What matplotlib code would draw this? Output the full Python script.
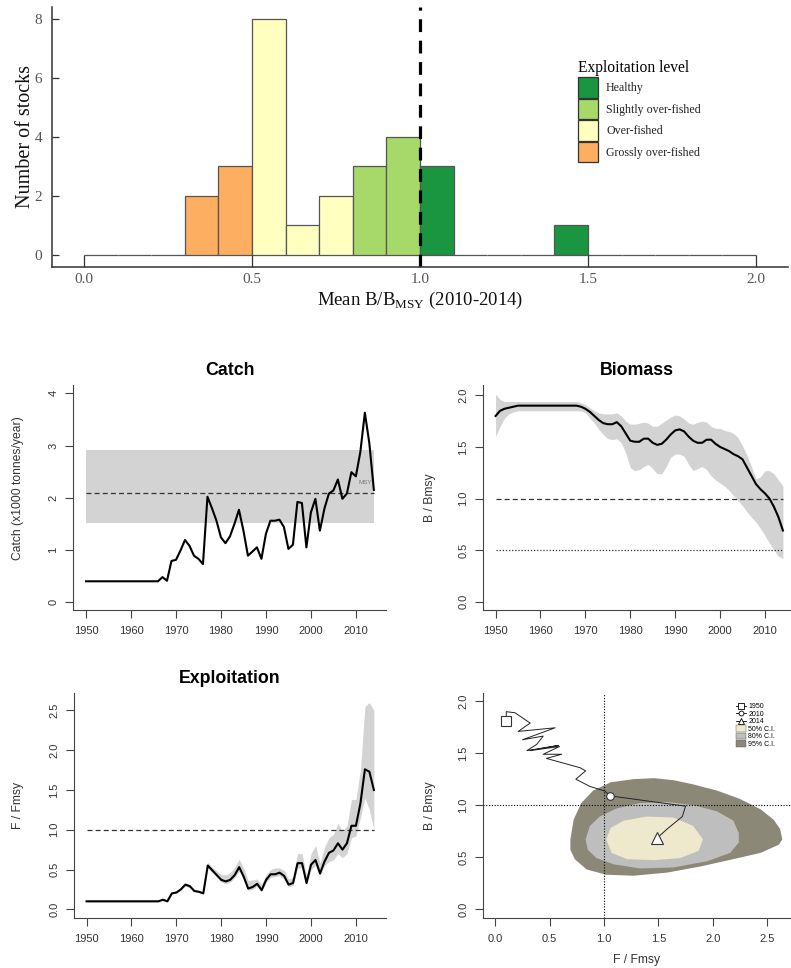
import numpy as np
import matplotlib
matplotlib.use("Agg")
import matplotlib.pyplot as plt
from matplotlib.patches import Patch
from matplotlib.lines import Line2D

plt.rcParams['font.family'] = ['Liberation Sans', 'DejaVu Sans']
plt.rcParams['mathtext.fontset'] = 'custom'
plt.rcParams['mathtext.rm'] = 'Liberation Serif'

# ---- histogram of stock status ----
bin_left = np.round(np.arange(0.0, 2.0, 0.1), 2)
counts = [0, 0, 0, 2, 3, 8, 1, 2, 3, 4, 3, 0, 0, 0, 1, 0, 0, 0, 0, 0]
level_names = ['Healthy', 'Slightly over-fished', 'Over-fished', 'Grossly over-fished']
level_colors = ['#1a9641', '#a6d96a', '#ffffbf', '#fdae61']
level_lower = [1.0, 0.8, 0.5, 0.0]  # lower B/Bmsy bound of each level

# ---- time series 1950-2014 ----
years = np.arange(1950, 2015)
catch = [0.40, 0.40, 0.40, 0.40, 0.40, 0.40, 0.40, 0.40, 0.40, 0.40,
         0.40, 0.40, 0.40, 0.40, 0.40, 0.40, 0.40, 0.48, 0.41, 0.79,
         0.81, 0.99, 1.19, 1.08, 0.89, 0.83, 0.73, 2.02, 1.80, 1.56,
         1.24, 1.13, 1.26, 1.50, 1.77, 1.37, 0.89, 0.97, 1.05, 0.83,
         1.31, 1.56, 1.56, 1.58, 1.44, 1.02, 1.10, 1.92, 1.90, 1.05,
         1.72, 1.98, 1.37, 1.79, 2.08, 2.14, 2.35, 1.98, 2.08, 2.49,
         2.41, 2.88, 3.63, 3.04, 2.15]
msy, msy_lo, msy_hi = 2.09, 1.52, 2.91

biomass = [1.80, 1.85, 1.87, 1.88, 1.89, 1.90, 1.90, 1.90, 1.90, 1.90,
           1.90, 1.90, 1.90, 1.90, 1.90, 1.90, 1.90, 1.90, 1.90, 1.89,
           1.87, 1.84, 1.80, 1.76, 1.73, 1.72, 1.72, 1.74, 1.70, 1.63,
           1.56, 1.55, 1.55, 1.58, 1.58, 1.54, 1.52, 1.53, 1.57, 1.62,
           1.66, 1.67, 1.65, 1.60, 1.56, 1.54, 1.54, 1.57, 1.57, 1.53,
           1.50, 1.48, 1.46, 1.43, 1.41, 1.38, 1.30, 1.22, 1.14, 1.09,
           1.05, 1.00, 0.92, 0.82, 0.69]
biomass_hi = [2.01, 1.96, 1.94, 1.94, 1.94, 1.94, 1.94, 1.94, 1.94, 1.94,
              1.94, 1.94, 1.94, 1.94, 1.94, 1.94, 1.94, 1.94, 1.94, 1.93,
              1.91, 1.88, 1.85, 1.83, 1.82, 1.82, 1.82, 1.83, 1.80, 1.75,
              1.72, 1.72, 1.73, 1.74, 1.73, 1.70, 1.70, 1.73, 1.76, 1.79,
              1.81, 1.80, 1.77, 1.73, 1.72, 1.74, 1.75, 1.74, 1.70, 1.68,
              1.68, 1.66, 1.65, 1.63, 1.59, 1.51, 1.42, 1.31, 1.19, 1.21,
              1.27, 1.27, 1.24, 1.18, 1.12]
biomass_lo = [1.60, 1.70, 1.78, 1.82, 1.84, 1.85, 1.85, 1.85, 1.85, 1.85,
              1.85, 1.85, 1.85, 1.85, 1.85, 1.85, 1.85, 1.85, 1.85, 1.85,
              1.83, 1.78, 1.73, 1.67, 1.62, 1.58, 1.57, 1.58, 1.54, 1.44,
              1.30, 1.27, 1.28, 1.31, 1.33, 1.29, 1.24, 1.24, 1.31, 1.40,
              1.43, 1.43, 1.41, 1.33, 1.27, 1.29, 1.31, 1.28, 1.22, 1.18,
              1.15, 1.12, 1.08, 1.03, 0.98, 0.93, 0.87, 0.82, 0.77, 0.71,
              0.64, 0.57, 0.50, 0.44, 0.42]

fmort = [0.10, 0.10, 0.10, 0.10, 0.10, 0.10, 0.10, 0.10, 0.10, 0.10,
         0.10, 0.10, 0.10, 0.10, 0.10, 0.10, 0.10, 0.12, 0.10, 0.20,
         0.21, 0.25, 0.31, 0.29, 0.23, 0.22, 0.20, 0.55, 0.49, 0.43,
         0.37, 0.35, 0.37, 0.43, 0.53, 0.41, 0.26, 0.28, 0.32, 0.24,
         0.37, 0.44, 0.44, 0.46, 0.42, 0.31, 0.33, 0.58, 0.58, 0.33,
         0.56, 0.62, 0.45, 0.60, 0.71, 0.74, 0.83, 0.75, 0.83, 1.05,
         1.05, 1.33, 1.76, 1.73, 1.50]
fmort_hi = [0.11, 0.11, 0.11, 0.11, 0.11, 0.11, 0.11, 0.11, 0.11, 0.11,
            0.11, 0.11, 0.11, 0.11, 0.11, 0.11, 0.11, 0.13, 0.11, 0.21,
            0.22, 0.27, 0.33, 0.31, 0.25, 0.24, 0.22, 0.59, 0.53, 0.48,
            0.44, 0.43, 0.46, 0.53, 0.63, 0.52, 0.36, 0.37, 0.38, 0.31,
            0.44, 0.50, 0.52, 0.52, 0.49, 0.38, 0.40, 0.70, 0.70, 0.42,
            0.70, 0.80, 0.58, 0.78, 0.90, 0.94, 1.08, 0.98, 1.05, 1.38,
            1.38, 1.75, 2.55, 2.60, 2.50]
fmort_lo = [0.09, 0.09, 0.09, 0.09, 0.09, 0.09, 0.09, 0.09, 0.09, 0.09,
            0.09, 0.09, 0.09, 0.09, 0.09, 0.09, 0.09, 0.11, 0.09, 0.19,
            0.20, 0.24, 0.29, 0.27, 0.22, 0.21, 0.19, 0.52, 0.46, 0.40,
            0.34, 0.32, 0.34, 0.40, 0.48, 0.38, 0.24, 0.25, 0.29, 0.22,
            0.34, 0.40, 0.41, 0.42, 0.38, 0.28, 0.30, 0.52, 0.52, 0.30,
            0.50, 0.55, 0.42, 0.55, 0.60, 0.62, 0.70, 0.65, 0.70, 0.90,
            0.92, 1.15, 1.40, 1.25, 1.00]

# ---- kobe plot: trajectory and confidence regions of the last year ----
kobe_f = [0.10, 0.10, 0.18, 0.32, 0.21, 0.55, 0.25, 0.44, 0.38, 0.29, 0.58, 0.32, 0.59,
          0.44, 0.61, 0.47, 0.78, 0.83, 0.74, 0.87, 1.01, 1.05, 1.75, 1.72, 1.58, 1.49]
kobe_b = [1.81, 1.90, 1.89, 1.79, 1.71, 1.745, 1.63, 1.665, 1.585, 1.525, 1.575, 1.525, 1.565,
          1.49, 1.49, 1.45, 1.36, 1.33, 1.25, 1.18, 1.135, 1.09, 0.99, 0.89, 0.77, 0.685]
kobe_2010 = (1.05, 1.09)

ci95_f = [0.69, 0.72, 0.79, 0.90, 1.06, 1.27, 1.46, 1.64, 1.82, 2.04, 2.25, 2.44, 2.56,
          2.62, 2.64, 2.61, 2.44, 2.19, 1.89, 1.58, 1.27, 1.02, 0.84, 0.73, 0.69]
ci95_b = [0.67, 0.86, 1.02, 1.14, 1.22, 1.25, 1.26, 1.24, 1.20, 1.14, 1.06, 0.96, 0.86,
          0.77, 0.67, 0.62, 0.54, 0.48, 0.41, 0.35, 0.32, 0.33, 0.38, 0.48, 0.57]
ci80_f = [0.83, 0.87, 0.96, 1.12, 1.33, 1.58, 1.82, 2.04, 2.19, 2.24, 2.24, 2.16, 1.95,
          1.64, 1.33, 1.09, 0.93, 0.85]
ci80_b = [0.67, 0.80, 0.89, 0.97, 1.02, 1.03, 1.00, 0.94, 0.85, 0.73, 0.64, 0.54, 0.46,
          0.40, 0.39, 0.43, 0.49, 0.57]
ci50_f = [1.02, 1.06, 1.18, 1.39, 1.64, 1.82, 1.91, 1.87, 1.70, 1.46, 1.21, 1.07]
ci50_b = [0.67, 0.78, 0.85, 0.89, 0.88, 0.80, 0.67, 0.56, 0.49, 0.47, 0.48, 0.54]
ci_colors = ['#8b8878', '#bebebe', '#eee8cd']

W, H = 791, 968
fig = plt.figure(figsize=(W / 100, H / 100), dpi=100)


def axes_px(left, top, right, bottom):
    return fig.add_axes([left / W, 1 - bottom / H, (right - left) / W, (bottom - top) / H])


# ================= histogram =================
serif = 'Liberation Serif'
ax = axes_px(52, 7, 788, 267)
bar_colors = []
for x in bin_left:
    for name, col, lo in zip(level_names, level_colors, level_lower):
        if x + 1e-9 >= lo:
            bar_colors.append(col)
            break
ax.bar(bin_left, counts, width=0.1, align='edge', color=bar_colors,
       edgecolor='#555555', linewidth=0.9)
ax.axvline(1.0, color='black', lw=2.3, linestyle=(0, (4, 2.7)))
ax.set_xlim(-0.095, 2.095)
ax.set_ylim(-0.41, 8.4)
ax.set_xticks([0.0, 0.5, 1.0, 1.5, 2.0])
ax.set_xticklabels(['0.0', '0.5', '1.0', '1.5', '2.0'], family=serif)
ax.set_yticks([0, 2, 4, 6, 8])
ax.set_yticklabels(['0', '2', '4', '6', '8'], family=serif)
for s in ('top', 'right'):
    ax.spines[s].set_visible(False)
for s in ('left', 'bottom'):
    ax.spines[s].set_color('#333333')
    ax.spines[s].set_linewidth(1.1)
ax.tick_params(axis='x', direction='in', length=8.5, width=0.9, color='#333333',
               labelsize=11, labelcolor='#555555', pad=4)
ax.tick_params(axis='y', direction='in', length=5, width=0.9, color='#333333',
               labelsize=11, labelcolor='#555555', pad=7)
ax.set_ylabel('Number of stocks', family=serif, fontsize=14.5, color='#111111')
ax.yaxis.label.set_va('center')
ax.yaxis.set_label_coords((26 - 52) / 736, 0.5)
ax.set_xlabel(r'Mean B/B$_{\mathrm{MSY}}$ (2010-2014)', family=serif, fontsize=13.5,
              color='#111111')
ax.xaxis.label.set_va('center')
ax.xaxis.set_label_coords(0.5, -(300 - 267) / 260)

handles = [Patch(facecolor=c, edgecolor='#333333', linewidth=0.9, label=n)
           for n, c in zip(level_names, level_colors)]
leg = ax.legend(handles=handles, title='Exploitation level', loc='upper left',
                bbox_to_anchor=(578 / W, 1 - 60 / H), bbox_transform=fig.transFigure,
                frameon=False, borderpad=0, borderaxespad=0, handlelength=1.7,
                handleheight=2.25, labelspacing=0.1, handletextpad=0.65,
                prop={'family': serif, 'size': 8.6},
                title_fontproperties={'family': serif, 'size': 11.2},
                alignment='left')
for t in leg.get_texts():
    t.set_color('#222222')


# ================= lower R-style panels =================
def r_style(ax, xticks, yticks, xfmt, yfmt):
    for s in ('top', 'right'):
        ax.spines[s].set_visible(False)
    for s in ('left', 'bottom'):
        ax.spines[s].set_color('#444444')
        ax.spines[s].set_linewidth(0.8)
    ax.set_xticks(xticks)
    ax.set_xticklabels([xfmt.format(v) for v in xticks])
    ax.set_yticks(yticks)
    ax.set_yticklabels([yfmt.format(v) for v in yticks], rotation=90, va='center')
    ax.tick_params(direction='out', length=5.5, width=0.8, color='#444444',
                   labelsize=8, labelcolor='#333333')
    ax.tick_params(axis='x', pad=6)
    ax.tick_params(axis='y', pad=5)


def ylab(ax, text, x_px, left_px, width_px, y_frac=0.5):
    ax.set_ylabel(text, fontsize=8.7, color='#333333')
    ax.yaxis.label.set_va('center')
    ax.yaxis.set_label_coords((x_px - left_px) / width_px, y_frac)


year_ticks = [1950, 1960, 1970, 1980, 1990, 2000, 2010]

# Catch
ax = axes_px(73, 385, 386, 610)
ax.fill_between([years[0], years[-1]], msy_lo, msy_hi, color='#d3d3d3', lw=0)
ax.plot([years[0], years[-1]], [msy, msy], color='#333333', lw=0.9, linestyle=(0, (4, 2.5)))
ax.plot(years, catch, color='black', lw=1.5)
ax.text(2012, msy + 0.2, 'MSY', fontsize=4.5, color='#777777', ha='center', va='center')
ax.set_xlim(1947.1, 2016.7)
ax.set_ylim(-0.15, 4.16)
r_style(ax, year_ticks, [0, 1, 2, 3, 4], '{:d}', '{:d}')
ax.set_title('Catch', fontsize=12.8, fontweight='bold', pad=7)
ylab(ax, 'Catch (x1000 tonnes/year)', 18, 73, 313, y_frac=0.54)

# Biomass
ax = axes_px(483, 385, 791, 610)
ax.fill_between(years, biomass_lo, biomass_hi, color='#d3d3d3', lw=0)
ax.plot([years[0], years[-1]], [1.0, 1.0], color='#333333', lw=0.9, linestyle=(0, (4, 2.5)))
ax.plot([years[0], years[-1]], [0.5, 0.5], color='#333333', lw=0.9, linestyle=(0, (1, 1.5)))
ax.plot(years, biomass, color='black', lw=1.5)
ax.set_xlim(1947.2, 2015.8)
ax.set_ylim(-0.08, 2.10)
r_style(ax, year_ticks, [0.0, 0.5, 1.0, 1.5, 2.0], '{:d}', '{:.1f}')
ax.set_title('Biomass', fontsize=12.8, fontweight='bold', pad=7)
ylab(ax, 'B / Bmsy', 430, 483, 308)

# Exploitation
ax = axes_px(74, 693, 386, 918)
ax.fill_between(years, fmort_lo, fmort_hi, color='#d3d3d3', lw=0)
ax.plot([years[0], years[-1]], [1.0, 1.0], color='#333333', lw=0.9, linestyle=(0, (4, 2.5)))
ax.plot(years, fmort, color='black', lw=1.5)
ax.set_xlim(1947.2, 2016.7)
ax.set_ylim(-0.11, 2.72)
r_style(ax, year_ticks, [0.0, 0.5, 1.0, 1.5, 2.0, 2.5], '{:d}', '{:.1f}')
ax.set_title('Exploitation', fontsize=12.8, fontweight='bold', pad=7)
ylab(ax, 'F / Fmsy', 18, 74, 312)

# Kobe plot
ax = axes_px(483, 693, 791, 918)
for fx, by, col in zip([ci95_f, ci80_f, ci50_f], [ci95_b, ci80_b, ci50_b], ci_colors):
    ax.fill(fx, by, color=col, lw=0)
ax.axvline(1.0, color='black', lw=0.8, linestyle=(0, (1, 1.5)))
ax.axhline(1.0, color='black', lw=0.8, linestyle=(0, (1, 1.5)))
ax.plot(kobe_f, kobe_b, color='#222222', lw=0.7)
ax.plot(kobe_f[0], kobe_b[0], marker='s', ms=6.5, mfc='white', mec='#333333', mew=0.8)
ax.plot(*kobe_2010, marker='o', ms=5.5, mfc='white', mec='#333333', mew=0.8)
ax.plot(kobe_f[-1], kobe_b[-1], marker='^', ms=9, mfc='white', mec='#333333', mew=0.8)
ax.set_xlim(-0.114, 2.72)
ax.set_ylim(-0.087, 2.08)
r_style(ax, [0.0, 0.5, 1.0, 1.5, 2.0, 2.5], [0.0, 0.5, 1.0, 1.5, 2.0], '{:.1f}', '{:.1f}')
ylab(ax, 'B / Bmsy', 430, 483, 308)
ax.set_xlabel('F / Fmsy', fontsize=8.7, color='#333333', labelpad=7)

k_handles = [
    Line2D([], [], color='black', lw=0.6, marker='s', ms=4, mfc='white', mec='black', mew=0.6, label='1950'),
    Line2D([], [], color='black', lw=0.6, marker='o', ms=3.5, mfc='white', mec='black', mew=0.6, label='2010'),
    Line2D([], [], color='black', lw=0.6, marker='^', ms=4.5, mfc='white', mec='black', mew=0.6, label='2014'),
    Patch(facecolor=ci_colors[2], edgecolor='#555555', lw=0.3, label='50% C.I.'),
    Patch(facecolor=ci_colors[1], edgecolor='#555555', lw=0.3, label='80% C.I.'),
    Patch(facecolor=ci_colors[0], edgecolor='#555555', lw=0.3, label='95% C.I.'),
]
ax.legend(handles=k_handles, loc='upper left', bbox_to_anchor=(736 / W, 1 - 703 / H),
          bbox_transform=fig.transFigure, frameon=False, fontsize=5, borderpad=0,
          borderaxespad=0, labelspacing=0.0, handlelength=1.4, handleheight=1.0,
          handletextpad=0.4)

fig.savefig('out.png', dpi=100)
